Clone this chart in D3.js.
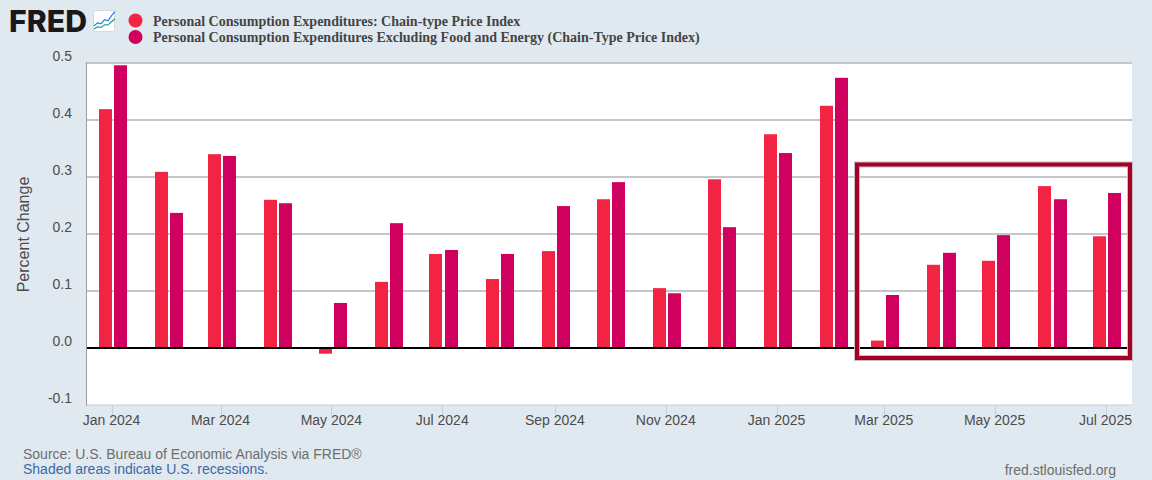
<!DOCTYPE html>
<html><head><meta charset="utf-8">
<script src="https://cdn.jsdelivr.net/npm/d3@7"></script>
<style>html,body{margin:0;padding:0;background:#e1e9f0}svg{display:block}text{font-family:"Liberation Sans",Arial,sans-serif}</style>
</head><body><svg id="c" width="1152" height="480"></svg>
<script>
const months=["2024-01","2024-02","2024-03","2024-04","2024-05","2024-06","2024-07","2024-08","2024-09","2024-10","2024-11","2024-12","2025-01","2025-02","2025-03","2025-04","2025-05","2025-06","2025-07"];
const pce=[0.419,0.309,0.340,0.260,-0.010,0.116,0.165,0.121,0.170,0.261,0.105,0.296,0.375,0.425,0.013,0.146,0.153,0.284,0.196];
const core=[0.496,0.237,0.337,0.254,0.079,0.219,0.172,0.165,0.249,0.291,0.096,0.212,0.342,0.474,0.093,0.167,0.198,0.261,0.272];
const yTicks=[-0.1,0,0.1,0.2,0.3,0.4,0.5];
const xTicks=["2024-01","2024-03","2024-05","2024-07","2024-09","2024-11","2025-01","2025-03","2025-05","2025-07"];
const names=["Personal Consumption Expenditures: Chain-type Price Index","Personal Consumption Expenditures Excluding Food and Energy (Chain-Type Price Index)"];
const colors=["#f32443","#d0005f"];
const parse=d3.utcParse("%Y-%m"), fmt=d3.utcFormat("%b %Y");
const svg=d3.select("#c");
const L=87,R=1132,T=63,B=405;
const x=d3.scaleUtc().domain([parse("2024-01"),parse("2025-07")]).range([111.5,1105.5]);
const y=d3.scaleLinear().domain([-0.1,0.5]).range([B,T]);
svg.append("rect").attr("x",L).attr("y",T).attr("width",R-L).attr("height",B-T).attr("fill","#fff");
// grid
svg.append("g").selectAll("line").data(yTicks.filter(d=>d>-0.1&&d!==0)).join("line")
 .attr("x1",L).attr("x2",R).attr("y1",d=>y(d)).attr("y2",d=>y(d)).attr("stroke","#c4c7c9").attr("stroke-width",2);
// axes
svg.append("line").attr("x1",L-0.5).attr("x2",L-0.5).attr("y1",T-1).attr("y2",B+1).attr("stroke","#9a9c9e").attr("stroke-width",1);
svg.append("line").attr("x1",L).attr("x2",R).attr("y1",B).attr("y2",B).attr("stroke","#c5cfdf").attr("stroke-width",1);
svg.selectAll(".yl").data(yTicks).join("text").attr("x",72).attr("y",d=>y(d)-2).attr("text-anchor","end")
 .attr("font-size",14).attr("fill","#4c4c4c").text(d=>d.toFixed(1));
const xg=svg.append("g");
xg.selectAll("line").data(xTicks).join("line").attr("x1",d=>Math.round(x(parse(d)))+.5).attr("x2",d=>Math.round(x(parse(d)))+.5)
 .attr("y1",B).attr("y2",B+10).attr("stroke","#c5cfdf");
xg.selectAll("text").data(xTicks).join("text").attr("x",d=>x(parse(d))).attr("y",425).attr("text-anchor","middle")
 .attr("font-size",14).attr("fill","#4c4c4c").text(d=>fmt(parse(d)));
// bars
const bw=13;
[pce,core].forEach((vals,s)=>{
 svg.append("g").selectAll("rect").data(vals).join("rect")
  .attr("x",(d,i)=>Math.round(x(parse(months[i]))+(s===0?-12.75:2.55)))
  .attr("width",bw)
  .attr("y",d=>y(Math.max(d,0)))
  .attr("height",d=>Math.abs(y(d)-y(0)))
  .attr("fill",colors[s]);
});
// zero line
svg.append("line").attr("x1",L).attr("x2",R).attr("y1",y(0)).attr("y2",y(0)).attr("stroke","#000").attr("stroke-width",2);
// highlight box
svg.append("rect").attr("x",857).attr("y",164.5).attr("width",273).attr("height",193.5).attr("fill","none").attr("stroke","#cdbcc1").attr("stroke-width",6);
svg.append("rect").attr("x",857).attr("y",164.5).attr("width",273).attr("height",193.5).attr("fill","none").attr("stroke","#a50026").attr("stroke-width",4);
// y title
svg.append("text").attr("transform","translate(29,234.5) rotate(-90)").attr("text-anchor","middle").attr("font-size",16).attr("fill","#4c4c4c").text("Percent Change");
// legend
names.forEach((n,i)=>{
 const cy=[20.5,37][i];
 svg.append("circle").attr("cx",135.5).attr("cy",cy).attr("r",7).attr("fill",colors[i]);
 svg.append("text").attr("x",153).attr("y",[26,42][i]).style("font-family","'Liberation Serif',serif").attr("font-weight","bold").attr("font-size",14).attr("fill","#444").text(n);
});
// logo
svg.append("text").attr("x",9).attr("y",32).style("font-family","Inter,'Liberation Sans',sans-serif").attr("font-size",30).attr("font-weight",800).attr("fill","#1a1818").attr("textLength",78).attr("lengthAdjust","spacingAndGlyphs").text("FRED");
svg.append("rect").attr("x",93.5).attr("y",10.5).attr("width",21).attr("height",21).attr("rx",2).attr("fill","#fff").attr("stroke","#d8d8d8");
const logoA=[[0,5],[1,8],[2,7],[3,11],[4,10],[5,15],[6,19]],logoB=[[0,2],[1,4],[2,3.5],[3,6],[4,6],[5,9],[6,12]];
const lx=d3.scaleLinear().domain([0,6]).range([94,115]),ly=d3.scaleLinear().domain([0,20]).range([31,10.5]);
const ll=d3.line().x(d=>lx(d[0])).y(d=>ly(d[1]));
svg.append("path").attr("d",ll(logoA)).attr("fill","none").attr("stroke","#2b78e4").attr("stroke-width",1.2);
svg.append("path").attr("d",ll(logoB)).attr("fill","none").attr("stroke","#2a9d8f").attr("stroke-width",1.2);
// footer
svg.append("text").attr("x",23).attr("y",459).attr("font-size",14).attr("fill","#6d6d6d").text("Source: U.S. Bureau of Economic Analysis via FRED®");
svg.append("text").attr("x",23).attr("y",474).attr("font-size",14).attr("fill","#3a6aa5").text("Shaded areas indicate U.S. recessions.");
svg.append("text").attr("x",1116).attr("y",475).attr("text-anchor","end").attr("font-size",14).attr("fill","#6d6d6d").text("fred.stlouisfed.org");
</script></body></html>
